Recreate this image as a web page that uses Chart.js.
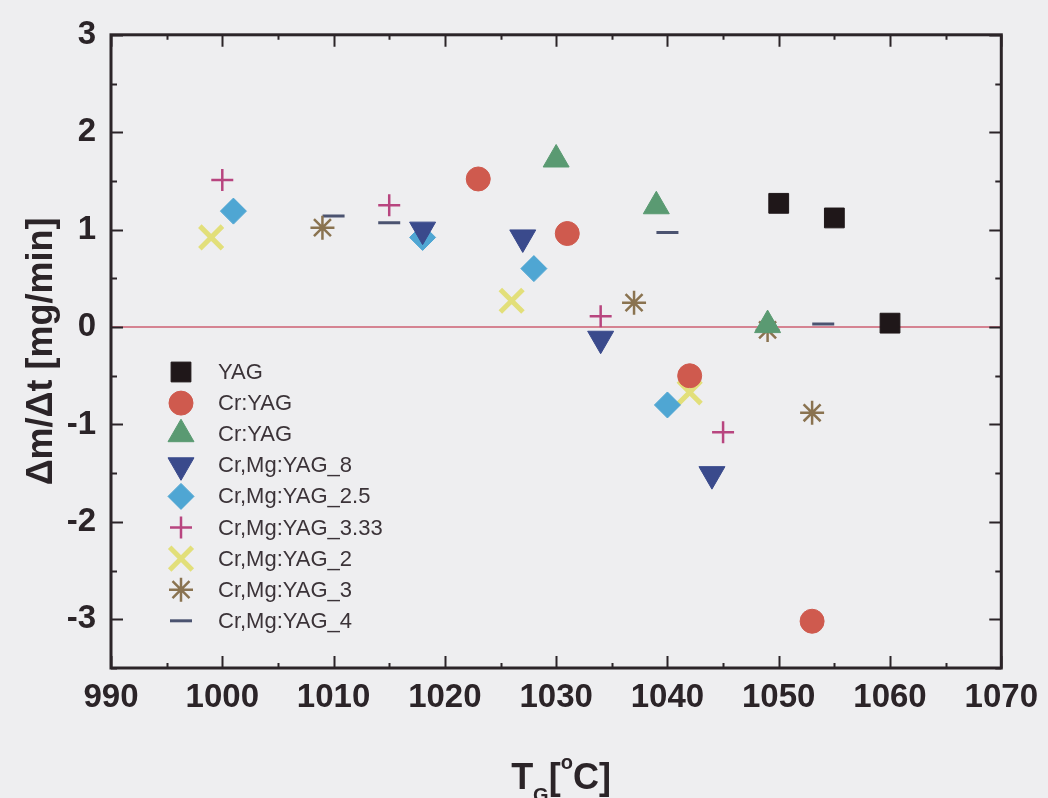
<!DOCTYPE html>
<html>
<head>
<meta charset="utf-8">
<title>Mass change rate vs growth temperature</title>
<script src="https://cdn.jsdelivr.net/npm/chart.js@4.4.1/dist/chart.umd.min.js"></script>
<style>
  html, body { margin: 0; padding: 0; background: #eeeef0; }
  #wrap { width: 1048px; height: 798px; }
</style>
</head>
<body>
<div id="wrap"><canvas id="massChart" width="1048" height="798"></canvas></div>
<script>
// ===== data =====
const xTicks = [990, 1000, 1010, 1020, 1030, 1040, 1050, 1060, 1070];
const yTicks = [-3, -2, -1, 0, 1, 2, 3];

const yagX = [1050, 1055, 1060];
const yagY = [1.27, 1.12, 0.04];

const crCircleX = [1023, 1031, 1042, 1053];
const crCircleY = [1.52, 0.96, -0.50, -3.02];

const crTriangleX = [1030, 1039, 1049];
const crTriangleY = [1.72, 1.24, 0.02];

const mg8X = [1018, 1027, 1034, 1044];
const mg8Y = [1.00, 0.92, -0.12, -1.51];

const mg25X = [1001, 1018, 1028, 1040];
const mg25Y = [1.19, 0.92, 0.60, -0.80];

const mg333X = [1000, 1015, 1034, 1045];
const mg333Y = [1.51, 1.25, 0.11, -1.08];

const mg2X = [999, 1026, 1042];
const mg2Y = [0.92, 0.27, -0.67];

const mg3X = [1009, 1037, 1049, 1053];
const mg3Y = [1.02, 0.25, -0.03, -0.88];

const mg4X = [1010, 1015, 1040, 1054];
const mg4Y = [1.14, 1.07, 0.97, 0.03];

const zeroLineX = [990, 1070];
const zeroLineY = [0, 0];

const FONT = '"Liberation Sans", Arial, sans-serif';
const INK = '#2b2428';

function pts(xs, ys) {
  return xs.map((x, i) => ({ x: x, y: ys[i] }));
}

function series(label, xs, ys, style) {
  return {
    label: label,
    data: pts(xs, ys),
    showLine: false,
    pointStyle: style.shape,
    pointRadius: style.r,
    pointHoverRadius: style.r,
    pointRotation: style.rot || 0,
    pointBackgroundColor: style.fill || 'transparent',
    pointBorderColor: style.stroke || style.fill,
    pointBorderWidth: style.bw || 1
  };
}

// ===== plugins =====

// page background
const bgPlugin = {
  id: 'bg',
  beforeDraw(chart) {
    const ctx = chart.ctx;
    ctx.save();
    ctx.fillStyle = '#eeeef0';
    ctx.fillRect(0, 0, chart.width, chart.height);
    ctx.restore();
  }
};

// frame + inward ticks on all four sides
const framePlugin = {
  id: 'frame',
  afterDraw(chart) {
    const { ctx, chartArea: a, scales } = chart;
    ctx.save();
    ctx.strokeStyle = INK;
    ctx.lineWidth = 2;
    for (let v = 990; v <= 1070; v += 5) {
      const px = Math.round(scales.x.getPixelForValue(v)) + 0.5;
      const len = v % 10 === 0 ? 12 : 5;
      ctx.beginPath();
      ctx.moveTo(px, a.bottom); ctx.lineTo(px, a.bottom - len);
      ctx.moveTo(px, a.top); ctx.lineTo(px, a.top + len);
      ctx.stroke();
    }
    for (let v = -3.5; v <= 3; v += 0.5) {
      const py = Math.round(scales.y.getPixelForValue(v)) + 0.5;
      const len = Number.isInteger(v) ? 12 : 6;
      ctx.beginPath();
      ctx.moveTo(a.left, py); ctx.lineTo(a.left + len, py);
      ctx.moveTo(a.right, py); ctx.lineTo(a.right - len, py);
      ctx.stroke();
    }
    ctx.lineWidth = 3;
    ctx.strokeRect(a.left, a.top, a.right - a.left, a.bottom - a.top);
    ctx.restore();
  }
};

// legend box inside the plot, lower left
const legendPlugin = {
  id: 'innerLegend',
  afterDraw(chart) {
    const ctx = chart.ctx;
    const x0 = 181, y0 = 372, step = 31.1;
    ctx.save();
    ctx.font = '22px ' + FONT;
    ctx.textBaseline = 'middle';
    ctx.textAlign = 'left';
    let row = 0;
    chart.data.datasets.forEach(ds => {
      if (!ds.label) return;
      const y = y0 + row * step;
      ctx.fillStyle = ds.pointBackgroundColor;
      ctx.strokeStyle = ds.pointBorderColor;
      ctx.lineWidth = ds.pointBorderWidth;
      Chart.helpers.drawPoint(ctx, {
        pointStyle: ds.pointStyle,
        radius: ds.pointRadius,
        rotation: ds.pointRotation,
        borderWidth: ds.pointBorderWidth
      }, x0, y);
      ctx.fillStyle = '#3b3338';
      ctx.fillText(ds.label, 218, y + 1);
      row++;
    });
    ctx.restore();
  }
};

// x axis title with subscript G and degree mark
const xTitlePlugin = {
  id: 'xTitle',
  afterDraw(chart) {
    const ctx = chart.ctx;
    const big = 'bold 36px ' + FONT;
    const small = 'bold 20px ' + FONT;
    const base = 789;
    const parts = [
      { t: 'T', f: big, dy: 0 },
      { t: 'G', f: small, dy: 13 },
      { t: '[', f: big, dy: 0 },
      { t: 'o', f: small, dy: -20 },
      { t: 'C]', f: big, dy: 0 }
    ];
    ctx.save();
    ctx.fillStyle = INK;
    ctx.textBaseline = 'alphabetic';
    ctx.textAlign = 'left';
    let total = 0;
    parts.forEach(p => { ctx.font = p.f; p.w = ctx.measureText(p.t).width; total += p.w; });
    let x = 561 - total / 2;
    parts.forEach(p => {
      ctx.font = p.f;
      ctx.fillText(p.t, x, base + p.dy);
      x += p.w;
    });
    ctx.restore();
  }
};

// ===== chart =====
const ctx = document.getElementById('massChart');

new Chart(ctx, {
  type: 'scatter',
  data: {
    datasets: [
      series('YAG', yagX, yagY, { shape: 'rect', r: 14, fill: '#1f1719' }),
      series('Cr:YAG', crCircleX, crCircleY, { shape: 'circle', r: 12, fill: '#cf5a4e' }),
      series('Cr:YAG', crTriangleX, crTriangleY, { shape: 'triangle', r: 15, fill: '#5a9a72' }),
      series('Cr,Mg:YAG_8', mg8X, mg8Y, { shape: 'triangle', r: 15, rot: 180, fill: '#3a4a8c' }),
      series('Cr,Mg:YAG_2.5', mg25X, mg25Y, { shape: 'rectRot', r: 13, fill: '#4fa6d3' }),
      series('Cr,Mg:YAG_3.33', mg333X, mg333Y, { shape: 'cross', r: 11, stroke: '#b8457f', bw: 2.5 }),
      series('Cr,Mg:YAG_2', mg2X, mg2Y, { shape: 'crossRot', r: 16, stroke: '#e2df7a', bw: 5 }),
      series('Cr,Mg:YAG_3', mg3X, mg3Y, { shape: 'star', r: 12, stroke: '#8a7350', bw: 2.5 }),
      series('Cr,Mg:YAG_4', mg4X, mg4Y, { shape: 'line', r: 11, stroke: '#4b5370', bw: 3 }),
      {
        label: '',
        type: 'line',
        data: pts(zeroLineX, zeroLineY),
        borderColor: '#cd5f73',
        borderWidth: 1.5,
        pointRadius: 0,
        fill: false
      }
    ]
  },
  options: {
    responsive: false,
    animation: false,
    devicePixelRatio: 1,
    layout: { padding: { top: 30, right: 45, left: 0, bottom: 0 } },
    plugins: {
      legend: { display: false },
      tooltip: { enabled: false }
    },
    scales: {
      x: {
        type: 'linear',
        min: 990,
        max: 1070,
        afterBuildTicks: axis => { axis.ticks = xTicks.map(v => ({ value: v })); },
        afterFit: axis => { axis.height = 130; },
        grid: { display: false, drawTicks: false },
        border: { display: false },
        ticks: {
          padding: 10,
          maxRotation: 0,
          color: INK,
          callback: v => String(v),
          font: { family: FONT, size: 33, weight: 'bold' }
        }
      },
      y: {
        min: -3.5,
        max: 3,
        afterBuildTicks: axis => { axis.ticks = yTicks.map(v => ({ value: v })); },
        afterFit: axis => { axis.width = 111; },
        grid: { display: false, drawTicks: false },
        border: { display: false },
        ticks: {
          padding: 15,
          color: INK,
          callback: v => String(v),
          font: { family: FONT, size: 33, weight: 'bold' }
        },
        title: {
          display: true,
          text: 'Δm/Δt [mg/min]',
          color: INK,
          padding: { top: 20, bottom: 0 },
          font: { family: FONT, size: 36, weight: 'bold' }
        }
      }
    }
  },
  plugins: [bgPlugin, framePlugin, legendPlugin, xTitlePlugin]
});
</script>
</body>
</html>
